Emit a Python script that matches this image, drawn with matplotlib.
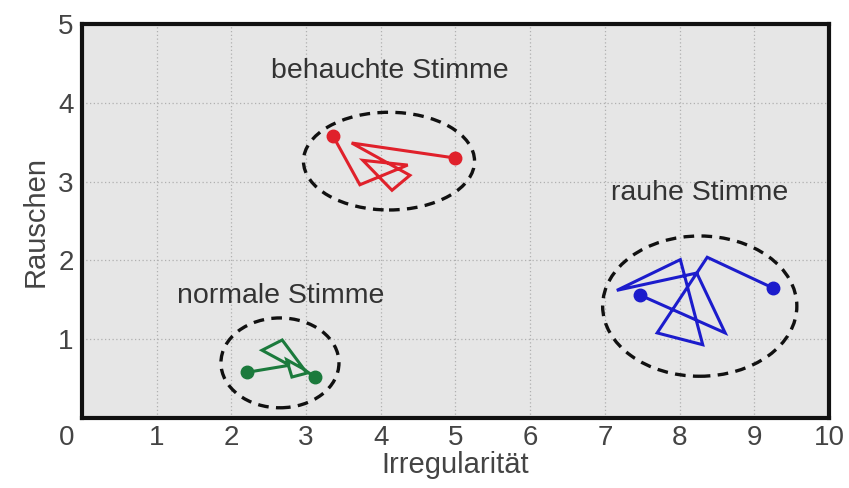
import matplotlib
matplotlib.use("Agg")
import matplotlib.pyplot as plt
from matplotlib.patches import Ellipse
from matplotlib.transforms import ScaledTranslation

# Data
red_x = [3.36, 3.72, 4.36, 3.76, 4.15, 4.39, 3.61, 4.99]
red_y = [3.58, 2.96, 3.21, 3.27, 2.89, 3.08, 3.49, 3.30]
blue_x = [7.47, 8.61, 8.23, 7.16, 8.01, 8.31, 7.70, 8.37, 9.25]
blue_y = [1.56, 1.08, 1.84, 1.62, 2.01, 0.93, 1.08, 2.04, 1.65]
green_x = [2.21, 2.78, 2.41, 2.68, 3.01, 2.81, 2.74, 2.95, 3.12]
green_y = [0.58, 0.67, 0.86, 0.99, 0.57, 0.52, 0.74, 0.63, 0.52]

# ellipses: center x, center y, width, height
ell_red = (4.11, 3.26, 2.29, 1.24)
ell_blue = (8.27, 1.42, 2.60, 1.78)
ell_green = (2.65, 0.70, 1.58, 1.14)

labels = ["behauchte Stimme", "rauhe Stimme", "normale Stimme"]
label_pos = [(4.12, 4.40), (8.27, 2.85), (2.66, 1.55)]

xticks = list(range(0, 11))
yticks = list(range(1, 6))

fig = plt.figure(figsize=(8.49, 4.88), dpi=100)
ax = fig.add_axes([0.0966, 0.1434, 0.8798, 0.8074])
ax.set_facecolor("#e6e6e6")
ax.set_xlim(0, 10)
ax.set_ylim(0, 5)

ax.grid(True, color="#b0b0b0", linestyle=(0, (1, 2)), linewidth=0.9)
ax.set_axisbelow(True)

for xs, ys, c in [(red_x, red_y, "#e0212b"), (blue_x, blue_y, "#1c1ccc"), (green_x, green_y, "#1b7a3c")]:
    ax.plot(xs, ys, color=c, lw=2.2, solid_joinstyle="miter", zorder=3)
    ax.plot([xs[0], xs[-1]], [ys[0], ys[-1]], "o", color=c, ms=9, zorder=4)

for cx, cy, w, h in [ell_red, ell_blue, ell_green]:
    ax.add_patch(Ellipse((cx, cy), w, h, fill=False, edgecolor="#111111",
                         lw=2.4, linestyle=(0, (3.2, 2.2)), zorder=5))

for t, (px, py) in zip(labels, label_pos):
    ax.text(px, py, t, ha="center", va="center", fontsize=20.5,
            family="Liberation Sans", color="#333333")

ax.set_xticks(xticks)
ax.set_yticks(yticks)
ax.set_xticklabels([str(v) for v in xticks])
ax.set_yticklabels([str(v) for v in yticks])
ax.tick_params(length=0, labelsize=20, labelcolor="#444444")
ax.tick_params(axis="x", pad=5)
ax.tick_params(axis="y", pad=6)
for lab in ax.get_xticklabels() + ax.get_yticklabels():
    lab.set_family("Liberation Sans")
xl = ax.get_xticklabels()
xl[0].set_transform(xl[0].get_transform() + ScaledTranslation(-0.15, 0, fig.dpi_scale_trans))

for s in ax.spines.values():
    s.set_linewidth(3)
    s.set_color("#111111")

ax.set_xlabel("Irregularität", fontsize=21, family="Liberation Sans", color="#444444", labelpad=0)
ax.set_ylabel("Rauschen", fontsize=21, family="Liberation Sans", color="#444444", labelpad=6)

fig.savefig("out.png", dpi=100, facecolor="white")
